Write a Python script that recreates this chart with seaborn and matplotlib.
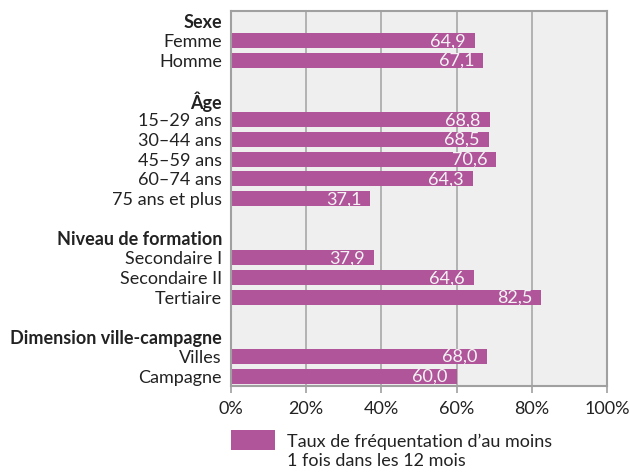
import matplotlib
matplotlib.use("Agg")
import matplotlib.pyplot as plt
import seaborn as sns
import pandas as pd
import numpy as np
from matplotlib.patches import Rectangle

labels = ["Sexe", "Femme", "Homme", " ",
          "Âge", "15–29 ans", "30–44 ans", "45–59 ans", "60–74 ans", "75 ans et plus", "  ",
          "Niveau de formation", "Secondaire I", "Secondaire II", "Tertiaire", "   ",
          "Dimension ville-campagne", "Villes", "Campagne"]
values = [np.nan, 64.9, 67.1, np.nan,
          np.nan, 68.8, 68.5, 70.6, 64.3, 37.1, np.nan,
          np.nan, 37.9, 64.6, 82.5, np.nan,
          np.nan, 68.0, 60.0]
headers = ["Sexe", "Âge", "Niveau de formation", "Dimension ville-campagne"]
xticks = [0, 20, 40, 60, 80, 100]
xticklabels = ["0%", "20%", "40%", "60%", "80%", "100%"]
legend_label = "Taux de fréquentation d’au moins\n1 fois dans les 12 mois"

sns.set_theme(style="white")
plt.rcParams["font.family"] = ["Lato", "DejaVu Sans"]

FS = 13
bar_color = "#b0559a"
df = pd.DataFrame({"label": labels, "value": values})

fig = plt.figure(figsize=(6.3, 4.73), dpi=100)
ax = fig.add_axes([231/630, 1-386/473, (607-231)/630, (386-11)/473])
ax.set_facecolor("#efefef")

sns.barplot(data=df.dropna(), x="value", y="label", order=labels, color=bar_color,
            width=0.76, saturation=1, ax=ax, orient="h", linewidth=0, edgecolor="none")

for p in ax.patches:
    w = p.get_width()
    if np.isnan(w) or w == 0:
        continue
    ax.annotate(f"{w:.1f}".replace(".", ","), xy=(w, p.get_y() + p.get_height()/2),
                xytext=(-6.5, -0.5), textcoords="offset points", ha="right", va="center",
                color="#f4f4f4", fontsize=FS)

ax.set_xlim(0, 100)
ax.set_ylim(len(labels) - 0.5, -0.5)
ax.set_xticks(xticks)
ax.set_xticklabels(xticklabels, fontsize=FS, color="#222222")
ax.set_xlabel("")
ax.set_ylabel("")
ax.set_yticks(range(len(labels)))
ax.set_yticklabels(labels, fontsize=FS, color="#222222")
for t in ax.get_yticklabels():
    if t.get_text() in headers:
        t.set_fontweight("bold")
ax.tick_params(axis="y", length=0, pad=6.5)
ax.tick_params(axis="x", length=5, width=1.2, color="#a0a0a0", pad=6, direction="out", bottom=True)
ax.grid(axis="x", color="#a8a8a8", linewidth=1.2)
ax.set_axisbelow(True)
for s in ax.spines.values():
    s.set_color("#a0a0a0")
    s.set_linewidth(1.5)
    s.set_visible(True)

fig.add_artist(Rectangle((231/630, 1-450/473), 44/630, 20/473, transform=fig.transFigure,
                         facecolor=bar_color, edgecolor="none"))
fig.text(287/630, 1-451.5/473, legend_label, ha="left", va="center", fontsize=FS,
         color="#222222", linespacing=1.28, transform=fig.transFigure)

fig.savefig("out.png", dpi=100)
